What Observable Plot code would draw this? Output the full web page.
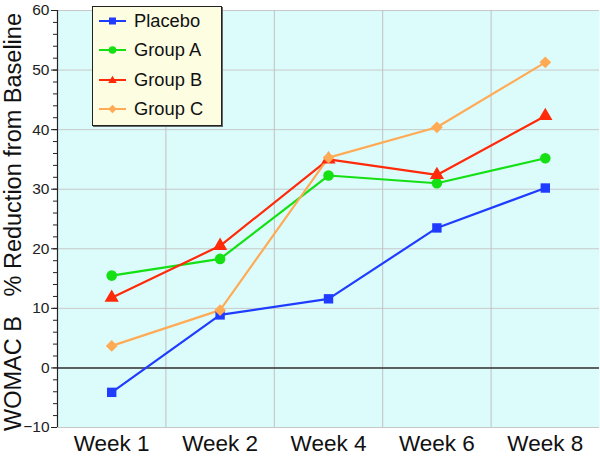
<!DOCTYPE html>
<html>
<head>
<meta charset="utf-8">
<script src="https://cdn.jsdelivr.net/npm/d3@7"></script>
<script src="https://cdn.jsdelivr.net/npm/@observablehq/plot@0.6"></script>
<style>
  html, body { margin: 0; padding: 0; background: #fff; }
  #wrap { position: relative; width: 600px; height: 459px; font-family: "Liberation Sans", Arial, sans-serif; }
  #legend { position: absolute; left: 92px; top: 6px; width: 128px; height: 118px; background: #fdfde2; border: 1.5px solid #222; box-shadow: 1px 1px 0 #666; }
  .row { position: absolute; left: 6px; height: 24px; display: flex; align-items: center; font-size: 18.3px; color: #111; }
  .row svg { margin-right: 8px; }
</style>
</head>
<body>
<div id="wrap"></div>
<script>
const weeks = ["Week 1", "Week 2", "Week 4", "Week 6", "Week 8"];
const seriesNames = ["Placebo", "Group A", "Group B", "Group C"];
const placebo = [-4.1, 8.9, 11.6, 23.5, 30.2];
const groupA = [15.5, 18.3, 32.3, 31.0, 35.2];
const groupB = [11.8, 20.5, 35.0, 32.4, 42.3];
const groupC = [3.7, 9.7, 35.3, 40.4, 51.3];
const colors = ["#1f3cff", "#14e014", "#ff2a0a", "#ffaa55"];
const symbols = ["square", "circle", "triangle", "diamond2"];
const yTicks = [-10, 0, 10, 20, 30, 40, 50, 60];
const yMinor = d3.range(-10, 61, 2);
const yLabel = "WOMAC B   % Reduction from Baseline";

const values = [placebo, groupA, groupB, groupC];
const data = [];
values.forEach((arr, s) => arr.forEach((v, i) => data.push({series: seriesNames[s], xi: i, week: weeks[i], value: v})));
const boundaries = d3.range(weeks.length - 1).map(i => i + 0.5);

const chart = Plot.plot({
  width: 600,
  height: 459,
  marginLeft: 57,
  marginRight: 1,
  marginTop: 10,
  marginBottom: 32,
  style: {fontFamily: "Liberation Sans, Arial, sans-serif", background: "transparent"},
  x: {type: "linear", domain: [-0.5, weeks.length - 0.5], axis: null},
  y: {domain: [-10, 60], axis: null},
  color: {domain: seriesNames, range: colors},
  symbol: {domain: seriesNames, range: symbols},
  marks: [
    Plot.frame({fill: "#dcfcfc", stroke: null}),
    Plot.ruleY(yTicks, {stroke: "#c8c8c8", strokeWidth: 1}),
    Plot.ruleX(boundaries, {stroke: "#c0c0c0", strokeWidth: 1}),
    Plot.ruleY([0], {stroke: "#333", strokeWidth: 1.6}),
    Plot.ruleX([-0.5], {stroke: "#222", strokeWidth: 1.2}),
    Plot.axisY({ticks: yMinor, tickSize: 4, tickFormat: () => "", stroke: "#222", label: null}),
    Plot.axisY({ticks: yTicks, tickSize: 6, tickPadding: 2, fontSize: 15.5, fill: "#222", stroke: "#222", label: null}),
    Plot.axisX({ticks: d3.range(weeks.length), tickSize: 0, tickPadding: 8, fontSize: 22.5, fill: "#111", tickFormat: i => weeks[i], label: null}),
    Plot.text([yLabel], {frameAnchor: "left", textAnchor: "middle", rotate: -90, dx: -44, dy: 3, fontSize: 23.5, fill: "#111"}),
    Plot.line(data, {x: "xi", y: "value", z: "series", stroke: "series", strokeWidth: 2.2}),
    Plot.dot(data, {x: "xi", y: "value", symbol: "series", fill: "series", stroke: null, r: 5.3})
  ]
});

const wrap = document.getElementById("wrap");
wrap.appendChild(chart);

const legend = document.createElement("div");
legend.id = "legend";
const symPaths = {
  square: '<rect x="10" y="3.5" width="7" height="7"/>',
  circle: '<circle cx="13.5" cy="7" r="3.8"/>',
  triangle: '<path d="M13.5 2.8 L17.8 10 L9.2 10 Z"/>',
  diamond2: '<path d="M13.5 2.8 L17.7 7 L13.5 11.2 L9.3 7 Z"/>'
};
seriesNames.forEach((name, i) => {
  const row = document.createElement("div");
  row.className = "row";
  row.style.top = (2 + i * 29.3) + "px";
  row.innerHTML = `<svg width="27" height="14" style="fill:${colors[i]}"><line x1="0" x2="27" y1="7" y2="7" stroke="${colors[i]}" stroke-width="2"/>${symPaths[symbols[i]]}</svg><span>${name}</span>`;
  legend.appendChild(row);
});
wrap.appendChild(legend);
</script>
</body>
</html>
